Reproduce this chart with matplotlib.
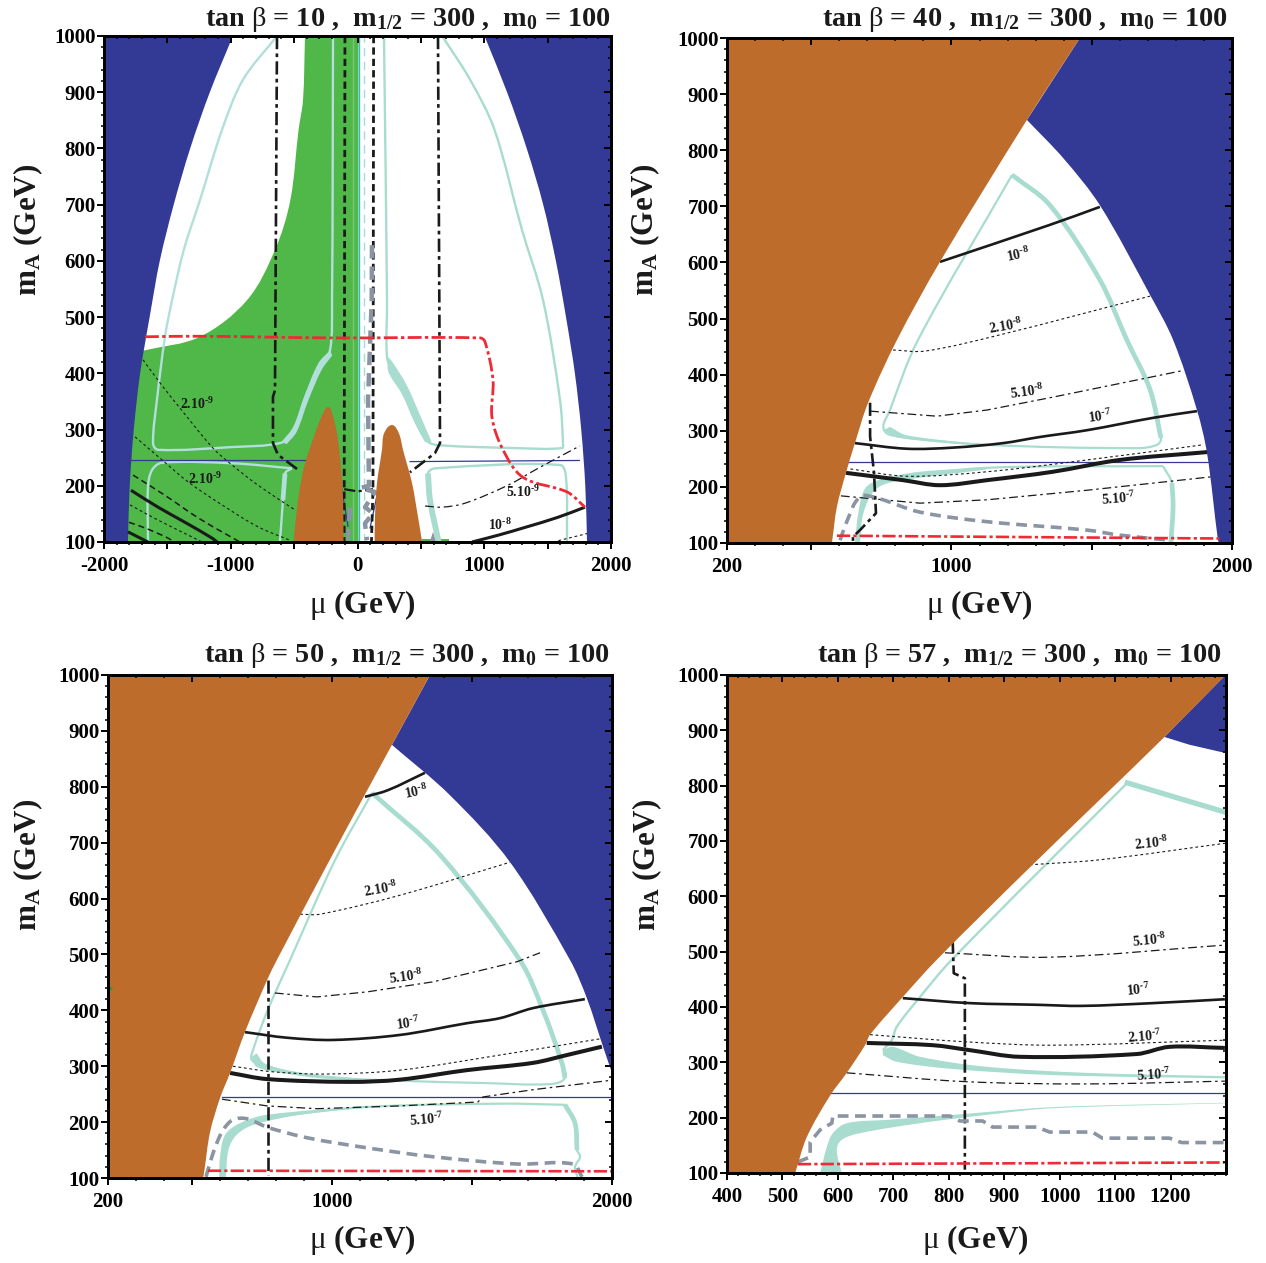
import matplotlib
matplotlib.use("Agg")
import matplotlib.pyplot as plt
import numpy as np
from matplotlib.path import Path
from matplotlib.patches import PathPatch

plt.rcParams["font.family"] = ["Liberation Serif"]
plt.rcParams["font.weight"] = "bold"
plt.rcParams["mathtext.fontset"] = "custom"
plt.rcParams["mathtext.rm"] = "Liberation Serif:bold"
plt.rcParams["mathtext.cal"] = "Liberation Serif:weight=regular"
plt.rcParams["mathtext.default"] = "regular"

BLUE = "#333a96"
BROWN = "#bd6c2c"
GREEN = "#4fb848"
TEAL = "#a8dccf"
TEAL_ON_GREEN = "#b2dfdc"
GRAY = "#8a94a3"
RED = "#ee2a35"
BLACK = "#1a1a1a"

# ---- panel A: tan beta = 10 ----
a_blue_left = [(-1811, 100), (-1797, 200), (-1765, 300), (-1715, 400), (-1640, 500), (-1560, 600),
               (-1450, 700), (-1320, 800), (-1165, 900), (-983, 1000)]
a_blue_right = [(1811, 100), (1797, 200), (1765, 300), (1715, 400), (1645, 500), (1565, 600),
                (1465, 700), (1335, 800), (1180, 900), (1002, 1000)]
a_green_edge = [(-1676, 441), (-1243, 465), (-872, 530), (-650, 620), (-530, 708), (-465, 833), (-430, 886),
                (-414, 1000)]
a_green_bit = [(510, 100), (510, 105), (720, 105), (720, 100)]
a_gray_mark = [(570, 100), (596, 118), (622, 100)]
a_brown_left = [(-505, 100), (-469, 175), (-422, 233), (-335, 293), (-272, 329), (-230, 340), (-201, 329),
                (-162, 293), (-130, 233), (-114, 175), (-110, 100)]
a_brown_right = [(135, 100), (138, 145), (154, 205), (193, 264), (209, 293), (272, 308), (327, 293), (359, 264),
                 (430, 205), (477, 145), (510, 100)]
a_teal_left = [
    [(-635, 1000), (-904, 922), (-1069, 833), (-1243, 708), (-1370, 620), (-1463, 530), (-1519, 465),
     (-1582, 353), (-1613, 276), (-1574, 264), (-982, 269), (-611, 276), (-509, 294), (-398, 365),
     (-296, 411), (-217, 441), (-201, 530), (-193, 1000)],
    [(-517, 231), (-982, 240), (-1542, 241), (-1621, 228), (-1653, 198), (-1653, 100)],
    [(-517, 231), (-572, 222), (-588, 175), (-612, 100)],
]
a_teal_right = [
    [(209, 1000), (233, 530), (233, 429), (280, 400), (391, 358), (493, 299), (556, 278), (651, 272),
     (1258, 267), (1613, 267), (1621, 276), (1598, 352), (1464, 530), (1298, 655), (1081, 833),
     (889, 922), (668, 1000)],
    [(640, 100), (572, 175), (556, 222), (611, 231), (1598, 237), (1645, 215), (1653, 100)],
]
a_teal_thick = [[(640, 100), (572, 175), (556, 222)]]
a_teal_thick_left = [[(-572, 222), (-588, 175)]]
a_wedge_left_1 = [(-559, 274), (-480, 296), (-388, 352), (-283, 406), (-199, 432)]
a_wedge_left_2 = [(-217, 441), (-309, 418), (-422, 358), (-507, 305), (-599, 278)]
a_wedge_right_1 = [(243, 429), (243, 403), (348, 364), (453, 311), (532, 278)]
a_wedge_right_2 = [(585, 278), (493, 326), (388, 379), (282, 418), (243, 429)]
a_navy = [
    [(-1790, 245), (-414, 245)],
    [(415, 243), (1750, 245)],
    [(-125, 196), (-75, 128)],
    [(160, 189), (99, 125)],
]
a_solid = [
    [(-1787, 192), (-1574, 162), (-1361, 135), (-1148, 107), (-1108, 100)],
    [(-1811, 118), (-1653, 100)],
    [(903, 100), (1108, 112), (1322, 126), (1582, 144), (1795, 162)],
]
a_short = [
    [(-1692, 424), (-1558, 383), (-1400, 338), (-1140, 267), (-990, 237), (-785, 201), (-493, 157)],
    [(-1755, 287), (-1542, 246), (-1337, 207), (-1069, 166), (-785, 127), (-532, 103)],
    [(-1795, 166), (-1574, 139), (-1306, 109), (-1227, 100)],
    [(1542, 100), (1811, 115)],
]
a_dash = [
    [(-1771, 219), (-1519, 183), (-1258, 143), (-1022, 112), (-927, 100)],
    [(-1803, 135), (-1677, 125), (-1495, 107), (-1450, 100)],
]
a_dashdot = [(533, 164), (667, 162), (848, 169), (1187, 201), (1424, 231), (1755, 271)]
a_dd_thick = [
    [(-635, 1000), (-651, 370), (-667, 358), (-667, 276), (-627, 255), (-454, 226)],
    [(635, 1000), (651, 276), (611, 258), (414, 224)],
]
a_center_dash = [
    [(-99, 1000), (-105, 194), (-105, 100)],
    [(127, 1000), (122, 194), (110, 100)],
]
a_center_link = [(-105, 194), (0, 190), (122, 194)]
a_gray = [
    [(114, 628), (112, 530), (83, 353), (90, 200), (20, 196), (138, 189), (59, 162), (122, 151),
     (59, 133), (75, 103)],
    [(-59, 161), (-75, 103)],
]
a_red = [(-1677, 465), (-1240, 466), (-200, 463), (967, 463), (1006, 456), (1069, 388), (1061, 322),
         (1148, 264), (1306, 215), (1653, 189), (1795, 162)]
a_labels = [("2.10$^{\\text{-9}}$", -1266, 345, 0), ("2.10$^{\\text{-9}}$", -1203, 212, 0),
            ("5.10$^{\\text{-9}}$", 1306, 189, 0), ("10$^{\\text{-8}}$", 1124, 130, 0)]

# ---- panel B: tan beta = 40 ----
b_brown = [(574, 100), (592, 165), (624, 225), (656, 278), (703, 350), (806, 462), (959, 601),
           (1269, 854), (1458, 1000)]
b_blue = [(1269, 854), (1400, 785), (1529, 702), (1708, 542), (1790, 462), (1875, 337), (1911, 260), (1950, 105),
          (1955, 100)]
b_teal = [
    [(1216, 756), (881, 462), (781, 337), (760, 301), (827, 289), (1127, 275), (1661, 269),
     (1733, 275), (1747, 287), (1708, 373), (1625, 462), (1529, 569), (1351, 702), (1216, 756)],
    [(1754, 237), (1127, 234), (770, 216)],
    [(1754, 237), (1786, 207), (1790, 164), (1782, 105)],
]
b_teal_thick = [
    [(1216, 756), (1351, 702), (1529, 569), (1625, 462), (1708, 373), (1747, 287)],
    [(1786, 207), (1790, 164), (1782, 100)],
]
b_wedges = [
    ([(1125, 234), (888, 227), (745, 213), (692, 197), (668, 153), (656, 100)],
     [(674, 100), (686, 153), (727, 194), (793, 209), (1125, 231)]),
    ([(757, 301), (816, 287), (1125, 273)], [(1125, 275), (840, 292), (781, 307)]),
]
b_solid = [
    [(959, 601), (1351, 667), (1529, 699)],
    [(656, 278), (841, 268), (1006, 270), (1184, 278), (1316, 289), (1483, 301), (1718, 323), (1875, 335)],
]
b_thick = [(624, 225), (827, 212), (959, 203), (1127, 212), (1362, 227), (1600, 248), (1911, 262)]
b_short = [
    [(792, 444), (905, 442), (1173, 471), (1708, 540)],
    [(640, 232), (841, 219), (1127, 227), (1483, 248), (1897, 275)],
]
b_dashdot = [
    [(710, 335), (948, 326), (1127, 337), (1362, 360), (1822, 407)],
    [(606, 184), (888, 171), (1127, 177), (1483, 194), (1928, 218)],
]
b_dd_thick = [(710, 350), (710, 290), (724, 225), (731, 153), (674, 123), (649, 111), (649, 100)]
b_gray = [(603, 105), (627, 138), (674, 182), (735, 180), (888, 155), (1127, 138), (1483, 123),
          (1600, 114), (1779, 105)]
b_red = [(592, 113), (1957, 108)]
b_navy = [(631, 245), (1914, 245)]
b_labels = [("10$^{\\text{-8}}$", 1237, 613, 12), ("2.10$^{\\text{-8}}$", 1194, 487, 10),
            ("5.10$^{\\text{-8}}$", 1269, 369, 8), ("10$^{\\text{-7}}$", 1529, 326, 8),
            ("5.10$^{\\text{-7}}$", 1594, 180, 5)]

# ---- panel C: tan beta = 50 ----
c_brown = [(539, 100), (543, 109), (564, 181), (600, 243), (636, 288), (689, 361), (768, 454),
           (803, 490), (1011, 687), (1214, 875), (1350, 1000)]
c_blue = [(1214, 875), (1421, 785), (1636, 665), (1850, 490), (1910, 422), (1968, 335), (2000, 288)]
c_teal = [
    [(1143, 789), (1011, 669), (850, 490), (771, 401), (718, 329), (714, 311), (768, 297), (946, 281),
     (1243, 274), (1539, 270), (1778, 268), (1832, 279), (1821, 306), (1753, 401), (1671, 490),
     (1386, 678), (1143, 789)],
    [(1832, 231), (1600, 233), (1125, 227), (768, 209)],
    [(1832, 231), (1868, 198), (1875, 150), (1886, 138), (1868, 120), (1878, 100)],
]
c_teal_thick = [
    [(1143, 789), (1386, 678), (1671, 490), (1753, 401), (1821, 306), (1832, 279)],
    [(1832, 231), (1868, 198), (1875, 150)],
]
c_wedges = [
    ([(1124, 229), (766, 213), (671, 198), (618, 177), (600, 138), (597, 100)],
     [(621, 100), (630, 150), (659, 177), (719, 195), (885, 213), (1124, 227)]),
    ([(713, 317), (731, 299), (838, 287), (1124, 276)], [(1124, 277), (885, 289), (760, 305), (731, 323)]),
]
c_solid = [
    [(1118, 782), (1200, 794), (1332, 825)],
    [(689, 361), (839, 351), (1004, 347), (1243, 356), (1482, 377), (1600, 386), (1718, 404), (1903, 420)],
]
c_thick = [(636, 288), (768, 277), (1064, 272), (1243, 276), (1482, 293), (1718, 306), (1839, 320), (1964, 335)]
c_short = [
    [(886, 572), (957, 572), (1243, 606), (1636, 665)],
    [(646, 300), (789, 290), (982, 286), (1243, 293), (1600, 320), (1957, 349)],
]
c_dashdot = [
    [(796, 431), (946, 424), (1125, 433), (1361, 451), (1661, 487), (1743, 503)],
    [(607, 241), (768, 229), (946, 224), (1243, 229), (1521, 236), (1539, 245), (1718, 258), (2000, 275)],
]
c_dd_thick = [(771, 454), (771, 105)]
c_gray = [(550, 102), (571, 138), (589, 163), (611, 186), (646, 204), (696, 206), (768, 191), (911, 172),
          (1125, 154), (1361, 138), (1661, 125), (1861, 125), (1893, 102)]
c_red = [(557, 113), (2000, 112)]
c_navy = [(607, 245), (2000, 245)]
c_tick_mark = (207, 440)
c_labels = [("10$^{\\text{-8}}$", 1300, 791, 12), ("2.10$^{\\text{-8}}$", 1175, 617, 10),
            ("5.10$^{\\text{-8}}$", 1264, 460, 8), ("10$^{\\text{-7}}$", 1271, 376, 8),
            ("5.10$^{\\text{-7}}$", 1336, 204, 5)]

# ---- panel D: tan beta = 57 ----
d_brown = [(523, 100), (544, 165), (586, 240), (616, 281), (649, 331), (658, 350), (717, 418), (778, 485),
           (946, 652), (1189, 888), (1299, 1000)]
d_blue = [(1189, 888), (1299, 1000), (1299, 859), (1234, 874)]
d_teal_thin = [(1122, 805), (805, 485), (748, 418), (706, 364), (697, 340), (681, 322)]
d_teal_top = [(1122, 805), (1299, 752)]
d_wedge_up_top = [(681, 322), (699, 328), (748, 310), (868, 292), (1049, 281), (1300, 275)]
d_wedge_up_bot = [(1300, 271), (987, 277), (807, 288), (706, 301), (681, 313)]
d_wedge_low_top = [(1300, 227), (987, 219), (807, 205), (688, 196), (616, 190), (591, 172), (580, 147), (568, 100)]
d_wedge_low_bot = [(607, 100), (598, 142), (607, 160), (640, 172), (748, 190), (868, 205), (987, 217), (1300, 226)]
d_solid = [(717, 416), (838, 407), (959, 404), (1040, 402), (1168, 407), (1298, 414)]
d_thick = [(652, 335), (771, 331), (838, 322), (928, 310), (1139, 315), (1198, 328), (1298, 326)]
d_short = [
    [(658, 350), (832, 337), (987, 331), (1298, 340)],
    [(946, 657), (1072, 666), (1299, 696)],
]
d_dashdot = [
    [(616, 281), (832, 265), (1049, 261), (1298, 266)],
    [(793, 498), (982, 490), (1299, 512)],
]
d_dd_thick = [(807, 521), (809, 461), (829, 452), (829, 106)]
d_gray = [(528, 120), (550, 129), (550, 156), (568, 178), (589, 190), (591, 203), (802, 203), (820, 194),
          (861, 194), (879, 183), (959, 183), (982, 174), (1059, 174), (1077, 163), (1198, 163), (1220, 155),
          (1298, 155)]
d_red = [(528, 116), (1298, 119)]
d_navy = [(586, 245), (1299, 245)]
d_labels = [("2.10$^{\\text{-8}}$", 1166, 696, 6), ("5.10$^{\\text{-8}}$", 1162, 521, 6),
            ("10$^{\\text{-7}}$", 1141, 431, 6), ("2.10$^{\\text{-7}}$", 1153, 346, 5),
            ("5.10$^{\\text{-7}}$", 1169, 277, 4)]

W, H = 1266, 1263
fig = plt.figure(figsize=(W / 100, H / 100), dpi=100)

y_ticks = list(range(100, 1001, 100))
y_minor = list(range(100, 1001, 20))


def xy(points):
    return [p[0] for p in points], [p[1] for p in points]


def bezier(ax, points):
    """Bezier control points running through the read points, worked out on the screen."""
    pts = ax.transData.transform(np.array(points, float))
    n = len(pts)
    tangents = np.zeros_like(pts)
    for i in range(n):
        d = pts[min(i + 1, n - 1)] - pts[max(i - 1, 0)]
        tangents[i] = d / max(np.hypot(*d), 1e-9)
    verts = []
    for i in range(n - 1):
        length = np.hypot(*(pts[i + 1] - pts[i])) / 3
        verts += [pts[i] + tangents[i] * length, pts[i + 1] - tangents[i + 1] * length, pts[i + 1]]
    back = ax.transData.inverted()
    return list(back.transform(np.array(verts)))


def curve(ax, points, color=BLACK, lw=1.0, ls="-", z=3):
    verts = [points[0]] + bezier(ax, points)
    codes = [Path.MOVETO] + [Path.CURVE4] * (len(verts) - 1)
    ax.add_patch(PathPatch(Path(verts, codes), fill=False, edgecolor=color, lw=lw, ls=ls, zorder=z,
                           capstyle="butt", joinstyle="round"))


def region(ax, curves, corners=(), color=BROWN, z=4):
    verts, codes = [], []
    for c in curves:
        verts.append(c[0])
        codes.append(Path.LINETO if verts[:-1] else Path.MOVETO)
        part = bezier(ax, c)
        verts += part
        codes += [Path.CURVE4] * len(part)
    for p in corners:
        verts.append(p)
        codes.append(Path.LINETO)
    verts.append(curves[0][0])
    codes.append(Path.CLOSEPOLY)
    ax.add_patch(PathPatch(Path(verts, codes), facecolor=color, edgecolor="none", lw=0, zorder=z))


def line(ax, points, color=BLACK, lw=1.0, ls="-", z=3):
    x, y = xy(points)
    ax.plot(x, y, color=color, lw=lw, ls=ls, zorder=z, solid_joinstyle="round", dash_joinstyle="round")


def make_axes(box, xlim, xmaj, xlabs, xmin, title, tx, ty, xlab_pos, ylab_pos):
    left, top, right, bottom = box
    pos = [left / W, 1 - bottom / H, (right - left) / W, (bottom - top) / H]
    ax = fig.add_axes(pos)
    ax.set_xlim(*xlim)
    ax.set_ylim(100, 1000)
    ax.set_xticks(xmaj)
    ax.set_xticklabels(xlabs, fontsize=15, fontweight="bold")
    ax.set_xticks(xmin, minor=True)
    ax.set_yticks(y_ticks)
    ax.set_yticklabels([str(v) for v in y_ticks], fontsize=15, fontweight="bold")
    ax.set_yticks(y_minor, minor=True)
    ax.tick_params(which="major", direction="out", length=5, width=1.4, pad=1)
    ax.tick_params(which="minor", direction="out", length=2.5, width=1.1)
    ax.tick_params(axis="x", which="major", pad=5)
    for sp in ax.spines.values():
        sp.set_linewidth(2.0)
        sp.set_zorder(10)
    # inward ticks on the top and right sides
    over = fig.add_axes(pos)
    over.patch.set_visible(False)
    over.set_xlim(*xlim)
    over.set_ylim(100, 1000)
    over.set_xticks(xmaj)
    over.set_xticks(xmin, minor=True)
    over.set_yticks(y_ticks)
    over.set_yticks(y_minor, minor=True)
    over.tick_params(which="both", direction="in", top=True, right=True, left=False, bottom=False,
                     labelleft=False, labelbottom=False, labeltop=False, labelright=False)
    over.tick_params(which="major", length=5, width=1.4)
    over.tick_params(which="minor", length=2.5, width=1.1)
    for sp in over.spines.values():
        sp.set_linewidth(2.0)
    fig.text(tx / W, 1 - ty / H, title, fontsize=20.3, ha="right", va="baseline", color=BLACK)
    fig.text(xlab_pos[0] / W, 1 - xlab_pos[1] / H, r"$\mathcal{\mu}$ (GeV)", fontsize=22.5, ha="center",
             va="center", color=BLACK)
    fig.text(ylab_pos[0] / W, 1 - ylab_pos[1] / H, "m$_A$ (GeV)", fontsize=22.4, ha="center", va="center",
             rotation=90, color=BLACK)
    return ax


def title_for(tb):
    return rf"tan $\mathcal{{\beta}}$ = {tb} ,  m$_{{1/2}}$ = 300 ,  m$_0$ = 100"


def add_labels(ax, labels):
    for text, x, y, rot in labels:
        ax.text(x, y, text, fontsize=10, ha="center", va="center", rotation=rot, color=BLACK, zorder=6)


SHORT = (0, (2.5, 2.5))
MEDIUM = (0, (4, 2.5))
DASHDOT = (0, (7, 3, 2, 3))
THICK_DD = (0, (5, 1.6, 1.4, 1.6))
GRAY_DASH = (0, (3, 1.8))
RED_DD = (0, (5, 1.2, 1.2, 1.2))

# panel A
xm = list(range(-2000, 2001, 500))
xl = ["-2000", "", "-1000", "", "0", "", "1000", "", "2000"]
ax = make_axes((104, 36, 611, 542), (-2000, 2000), xm, xl, list(range(-2000, 2001, 100)), title_for(10), 611, 26,
               (362, 605), (28, 230))
region(ax, [a_green_edge], [(8, 1000), (8, 100), (-1900, 100), (-1900, 430)], GREEN, 1)
ax.fill(*xy(a_green_bit), color=GREEN, lw=0, zorder=1)
ax.fill(*xy(a_gray_mark), color=GRAY, lw=0, zorder=2)
region(ax, [a_blue_left], [(-2000, 1000), (-2000, 100)], BLUE, 1.5)
region(ax, [a_blue_right], [(2000, 1000), (2000, 100)], BLUE, 1.5)
region(ax, [a_brown_left], (), BROWN, 4)
region(ax, [a_brown_right], (), BROWN, 4)
ax.axvline(-35, color="#78c878", lw=1.0, zorder=2)
ax.axvline(15, color="#35b8c8", lw=1.0, zorder=2)
ax.axvline(50, color=TEAL, lw=1.0, ls=(0, (6, 4)), zorder=2)
for seg in a_teal_left:
    curve(ax, seg, TEAL_ON_GREEN, 1.7, z=2)
for seg in a_teal_right:
    curve(ax, seg, TEAL, 1.7, z=2)
for seg in a_teal_thick:
    curve(ax, seg, TEAL, 4.2, z=2)
for seg in a_teal_thick_left:
    curve(ax, seg, TEAL_ON_GREEN, 3.4, z=2)
region(ax, [a_wedge_left_1, a_wedge_left_2], (), TEAL_ON_GREEN, 2)
region(ax, [a_wedge_right_1, a_wedge_right_2], (), TEAL, 2)
for seg in a_navy:
    line(ax, seg, BLUE, 0.9)
for seg in a_short:
    curve(ax, seg, BLACK, 0.8, SHORT)
for seg in a_dash:
    curve(ax, seg, BLACK, 1.1, MEDIUM)
curve(ax, a_dashdot, BLACK, 0.9, DASHDOT)
for seg in a_solid:
    curve(ax, seg, BLACK, 2.2)
for seg in a_dd_thick:
    line(ax, seg, BLACK, 1.9, THICK_DD)
for seg in a_center_dash:
    line(ax, seg, BLACK, 2.0, (0, (2.6, 1.5)))
line(ax, a_center_link, BLACK, 1.6, THICK_DD)
for seg in a_gray:
    line(ax, seg, GRAY, 3.2, GRAY_DASH, z=3)
curve(ax, a_red, RED, 2.0, RED_DD, z=5)
add_labels(ax, a_labels)

# panels B and C share the same layout of lines
panels = [
    ((727, 38, 1232, 543), 40, 1228, 26, (979, 605), (645, 230), b_brown, b_blue, b_teal, b_teal_thick, b_wedges,
     b_solid, b_thick, b_short, b_dashdot, b_dd_thick, b_gray, b_red, b_navy, b_labels),
    ((108, 675, 612, 1178), 50, 610, 662, (362, 1240), (28, 865), c_brown, c_blue, c_teal, c_teal_thick, c_wedges,
     c_solid, c_thick, c_short, c_dashdot, c_dd_thick, c_gray, c_red, c_navy, c_labels),
]
for (box, tb, tx, ty, xp, yp, brown, blue, teal, teal_thick, wedges, solid, thick, short, dashdot, dd, gray, red,
     navy, labels) in panels:
    ax = make_axes(box, (200, 2000), [200, 500, 1000, 1500, 2000], ["200", "", "1000", "", "2000"],
                   list(range(200, 2001, 100)), title_for(tb), tx, ty, xp, yp)
    region(ax, [brown], [(200, 1000), (200, 100)], BROWN, 4)
    region(ax, [blue], [(2000, 100), (2000, 1000), (brown[-1][0], 1000)], BLUE, 1)
    for seg in teal:
        curve(ax, seg, TEAL, 1.6, z=2)
    for seg in teal_thick:
        curve(ax, seg, TEAL, 3.4, z=2)
    for top_edge, bottom_edge in wedges:
        region(ax, [top_edge, bottom_edge], (), TEAL, 2)
    line(ax, navy, BLUE, 0.9)
    for seg in short:
        curve(ax, seg, BLACK, 0.8, SHORT)
    for seg in dashdot:
        line(ax, seg, BLACK, 0.9, DASHDOT)
    for seg in solid:
        curve(ax, seg, BLACK, 1.9)
    curve(ax, thick, BLACK, 2.9)
    line(ax, dd, BLACK, 1.9, THICK_DD)
    curve(ax, gray, GRAY, 2.6, GRAY_DASH)
    line(ax, red, RED, 1.9, RED_DD, z=5)
    add_labels(ax, labels)
    if tb == 50:
        ax.plot(*c_tick_mark, marker=">", ms=2.5, color="#2a9a3a", zorder=6, clip_on=False)

# panel D
xm = list(range(400, 1201, 100))
ax = make_axes((727, 675, 1226, 1173), (400, 1300), xm, [str(v) for v in xm], list(range(400, 1301, 20)),
               title_for(57), 1222, 662, (975, 1240), (647, 865))
region(ax, [d_brown], [(400, 1000), (400, 100)], BROWN, 4)
ax.fill(*xy(d_blue), color=BLUE, lw=0, zorder=1)
region(ax, [d_wedge_up_top, d_wedge_up_bot], (), TEAL, 2)
region(ax, [d_wedge_low_top, d_wedge_low_bot], (), TEAL, 2)
curve(ax, d_teal_thin, TEAL, 1.7, z=2)
line(ax, d_teal_top, TEAL, 3.8, z=2)
line(ax, d_navy, BLUE, 0.9)
for seg in d_short:
    curve(ax, seg, BLACK, 0.8, SHORT)
for seg in d_dashdot:
    curve(ax, seg, BLACK, 0.9, DASHDOT)
curve(ax, d_solid, BLACK, 1.9)
curve(ax, d_thick, BLACK, 2.9)
line(ax, d_dd_thick, BLACK, 1.9, THICK_DD)
line(ax, d_gray, GRAY, 2.6, GRAY_DASH)
line(ax, d_red, RED, 1.9, RED_DD, z=5)
add_labels(ax, d_labels)

fig.savefig("out.png", dpi=100)
